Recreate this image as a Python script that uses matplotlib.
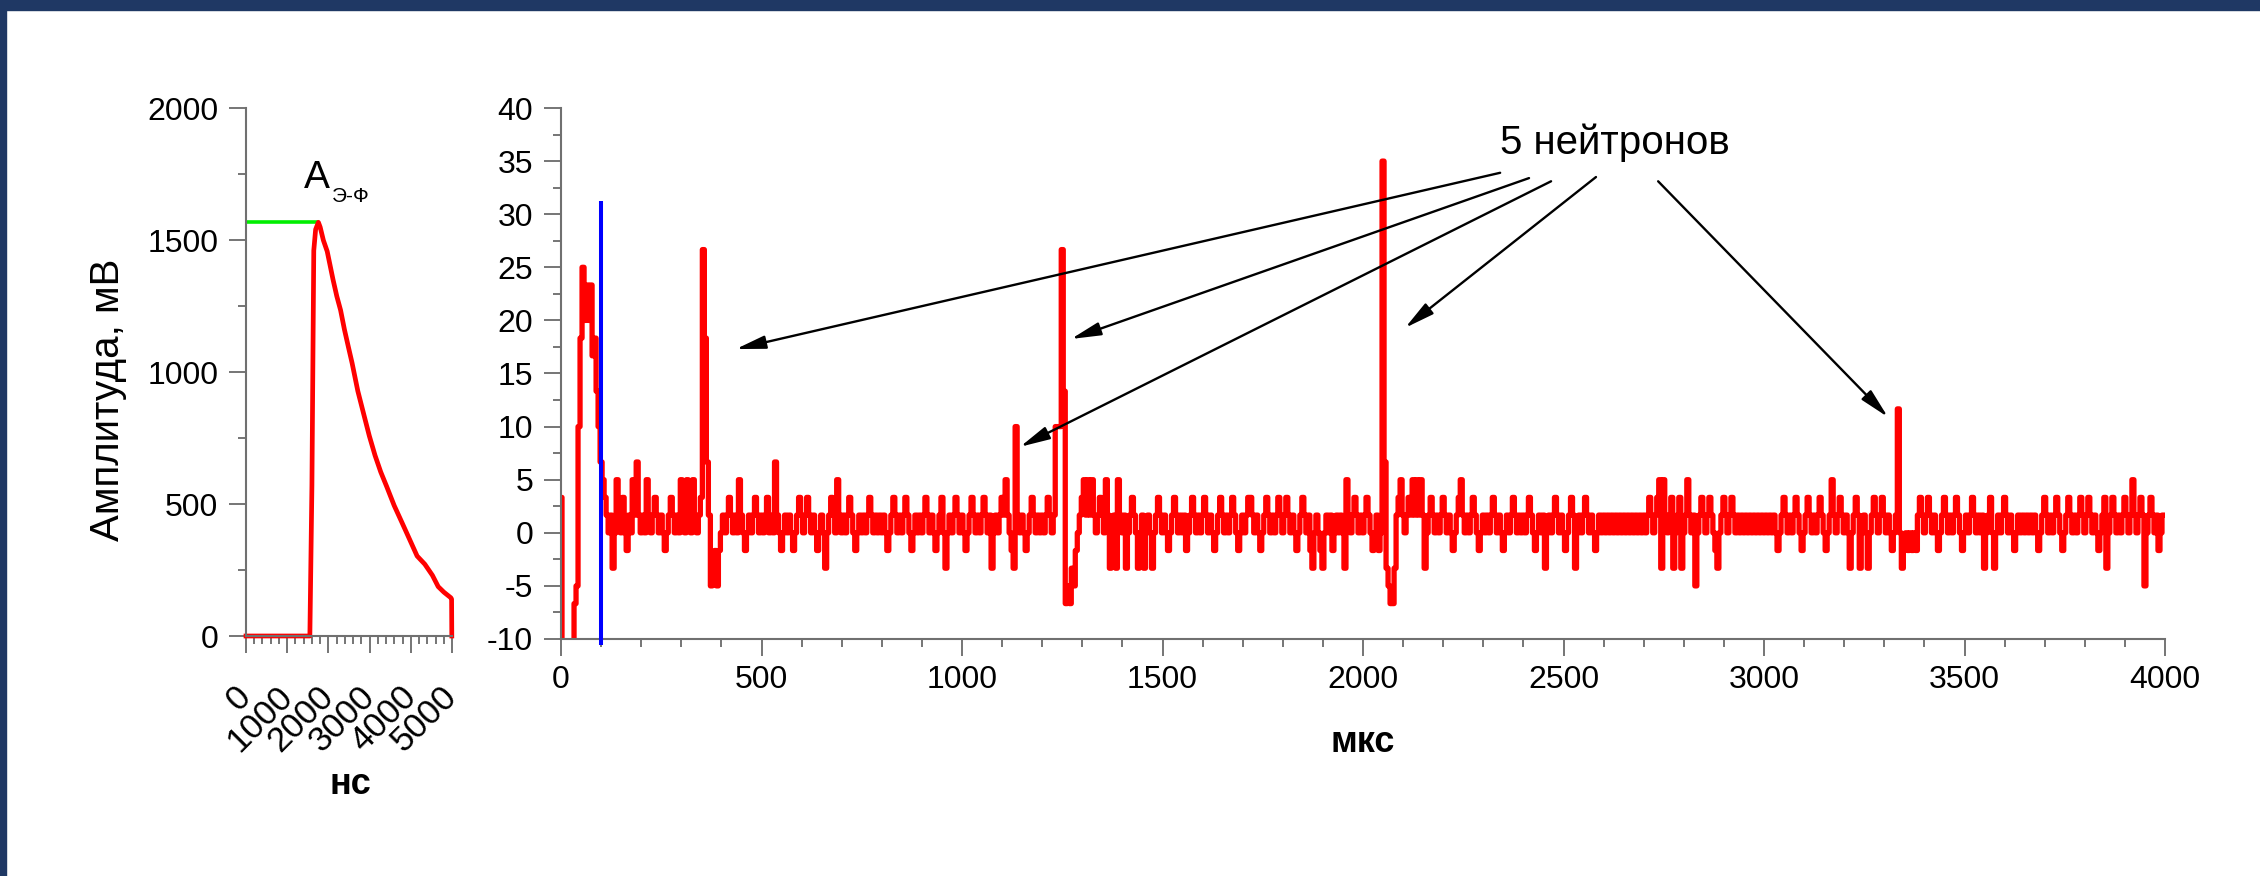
import numpy as np
import matplotlib
matplotlib.use("Agg")
import matplotlib.pyplot as plt
from matplotlib.patches import Rectangle
from matplotlib.ticker import MultipleLocator

# ---- left panel: one PMT pulse (ns, mV)
pulse_ns = [0, 1000, 1550, 1600, 1645, 1690, 1757, 1800, 1878, 1971, 2111,
            2204, 2296, 2389, 2482, 2575, 2714, 2853, 2993, 3132, 3271,
            3410, 3597, 3782, 3968, 4153, 4340, 4524, 4665, 4803, 4971,
            4990, 4995]
pulse_mv = [0, 0, 0, 570, 1460, 1540, 1567, 1549, 1499, 1457, 1351,
            1287, 1234, 1161, 1097, 1034, 928, 843, 758, 684, 621,
            568, 494, 431, 367, 303, 272, 230, 187, 166, 145,
            140, 0]
peak_ns = [0, 1755]
peak_mv = 1568

step_us = 5
code_mv = 5 / 3  # one ADC code in mV
trace_codes = [
    2, -8, -8, -8, -8, -8, -8, -4, -3, 6, 11, 15, 12, 14, 12, 14, 10, 11, 8, 6,
    4, 3, 2, 1, 0, 1, -2, 0, 3, 1, 0, 2, 0, -1, 1, 0, 3, 1, 4, 1,
    0, 1, 0, 3, 1, 0, 1, 2, 1, 0, 1, 0, -1, 0, 1, 2, 1, 0, 1, 0,
    3, 1, 0, 3, 1, 0, 3, 1, 0, 1, 2, 16, 11, 4, 1, -3, -2, -1, -3, -1,
    0, 1, 0, 1, 2, 1, 0, 1, 0, 3, 1, 0, -1, 0, 1, 0, 1, 2, 1, 0,
    1, 0, 1, 2, 0, 1, 0, 4, 1, 0, -1, 0, 1, 0, 1, 0, -1, 0, 1, 2,
    1, 0, 1, 2, 1, 0, 1, 0, -1, 0, 1, 0, -2, 0, 1, 2, 1, 0, 3, 1,
    0, 1, 0, 1, 2, 1, 0, -1, 0, 1, 0, 1, 0, 1, 2, 1, 0, 1, 0, 1,
    0, 1, 0, -1, 0, 1, 2, 1, 0, 1, 0, 1, 2, 1, 0, -1, 0, 1, 0, 1,
    0, 1, 2, 1, 0, 1, 0, -1, 0, 1, 2, 0, -2, 0, 1, 0, 1, 2, 1, 0,
    1, 0, -1, 0, 1, 2, 1, 0, 1, 0, 1, 2, 1, 0, 1, -2, 0, 1, 0, 1,
    2, 1, 3, 1, 0, -1, -2, 6, 1, 0, 1, 0, -1, 0, 1, 2, 1, 0, 1, 0,
    1, 0, 1, 2, 1, 0, 1, 6, 6, 6, 16, 8, -4, -3, -4, -2, -3, -1, 0, 1,
    2, 3, 1, 3, 1, 3, 1, 0, 1, 2, 1, 0, 3, 1, -2, 0, 1, -2, 3, 1,
    0, 1, -2, 0, 1, 2, 1, 0, -2, 0, 1, -2, 0, 1, 0, -2, 0, 1, 2, 1,
    0, 1, 0, -1, 0, 1, 2, 1, 0, 1, 0, 1, -1, 0, 1, 2, 1, 0, 1, 0,
    1, 2, 1, 0, 1, 0, -1, 0, 1, 2, 1, 0, 1, 0, 1, 2, 1, 0, -1, 0,
    1, 0, 1, 2, 2, 1, 0, 1, 0, -1, 0, 1, 2, 1, 0, 1, 0, 1, 2, 1,
    0, 1, 2, 1, 0, 1, 0, -1, 0, 1, 2, 1, 0, 1, -1, -2, 0, 1, 0, -1,
    -2, 0, 1, 0, 1, -1, 0, 1, 0, 1, 0, -2, 3, 1, 0, 1, 2, 1, 0, 1,
    0, 1, 2, 1, 0, -1, 0, 1, -1, 0, 21, 4, -2, -3, -4, -4, -2, 1, 2, 3,
    1, 0, 1, 2, 1, 3, 1, 3, 1, 3, 1, -2, 0, 1, 2, 1, 0, 1, 0, 1,
    2, 1, 0, 1, 0, -1, 0, 1, 2, 3, 1, 0, 1, 0, 1, 2, 1, 0, -1, 0,
    1, 0, 1, 0, 1, 2, 1, 0, 1, 0, -1, 0, 1, 0, 1, 2, 1, 0, 1, 0,
    1, 0, 1, 2, 1, 0, -1, 0, 1, 0, 1, -2, 0, 1, 0, 1, 2, 1, 0, 1,
    0, -1, 0, 1, 2, 1, -2, 0, 1, 0, 1, 2, 1, 0, 1, 0, -1, 0, 1, 0,
    1, 0, 1, 0, 1, 0, 1, 0, 1, 0, 1, 0, 1, 0, 1, 0, 1, 0, 1, 0,
    1, 0, 1, 2, 1, 0, 1, 2, 3, -2, 3, 1, 0, 1, 2, -2, 0, 1, 2, -2,
    0, 1, 3, 1, 0, 1, -3, 0, 1, 2, 1, 0, 1, 2, 1, 0, -1, -2, 0, 1,
    2, 1, 0, 1, 2, 1, 0, 1, 0, 1, 0, 1, 0, 1, 0, 1, 0, 1, 0, 1,
    0, 1, 0, 1, 0, 1, 0, -1, 0, 1, 2, 1, 0, 1, 0, 1, 2, 1, 0, -1,
    0, 1, 2, 1, 0, 1, 0, 1, 2, 1, 0, -1, 0, 1, 3, 1, 0, 1, 2, 1,
    0, 1, 0, -2, 0, 1, 2, 1, -2, 0, 1, 0, -2, 0, 1, 2, 1, 0, 1, 2,
    1, 0, 1, 0, -1, 0, 1, 7, 0, -2, -1, 0, -1, 0, -1, 0, -1, 1, 2, 1,
    0, 1, 2, 1, 0, 1, 0, -1, 0, 1, 2, 1, 0, 1, 0, 1, 2, 1, 0, -1,
    0, 1, 0, 1, 2, 1, 0, 1, 0, 1, -2, 0, 1, 2, 0, -2, 0, 1, 0, 1,
    2, 1, 0, 1, 0, -1, 0, 1, 0, 1, 0, 1, 0, 1, 0, 1, 0, -1, 0, 1,
    2, 1, 0, 1, 0, 1, 2, 1, 0, -1, 0, 1, 2, 1, 0, 1, 0, 1, 2, 1,
    0, 1, 2, 1, 0, 1, 0, -1, 0, 1, 2, -2, 0, 1, 2, 1, 0, 1, 0, 1,
    2, 1, 0, 1, 3, 1, 0, 1, 2, 1, -3, 0, 1, 2, 1, 0, 1, -1, 0, 1,
    1,
]
gate_us = 100
gate_mv = [-10.6, 31.2]

# neutron arrows: text foot -> pulse (us, mV)
arrow_from = [(2342, 33.9), (2414, 33.4), (2469, 33.1), (2581, 33.5), (2736, 33.1)]
arrow_to = [(436, 17.3), (1272, 18.25), (1145, 8.1), (2105, 19.3), (3309, 10.9)]
label_pos = (2628, 36.7)

W, H = 2260, 876
plt.rcParams['font.family'] = ['Liberation Sans', 'DejaVu Sans']
plt.rcParams['axes.unicode_minus'] = False
plt.rcParams['path.simplify'] = False

fig = plt.figure(figsize=(W / 100, H / 100), dpi=100)
fig.patches.append(Rectangle((0, 1 - 10 / H), 1, 10 / H, transform=fig.transFigure,
                             color='#1f3864', zorder=0))
fig.patches.append(Rectangle((0, 0), 6 / W, 1, transform=fig.transFigure,
                             color='#1f3864', zorder=0))


def px_box(x0, y0, x1, y1):
    return [x0 / W, 1 - y1 / H, (x1 - x0) / W, (y1 - y0) / H]


def style(ax):
    for side in ('top', 'right'):
        ax.spines[side].set_visible(False)
    for side in ('left', 'bottom'):
        ax.spines[side].set_color('#707070')
        ax.spines[side].set_linewidth(1.5)
    ax.tick_params(which='major', direction='out', length=12, width=1.1,
                   color='#505050', labelsize=23, pad=8)
    ax.tick_params(which='minor', direction='out', length=6, width=1.1,
                   color='#505050')


# left panel
ax1 = fig.add_axes(px_box(246, 108, 452, 636))
style(ax1)
ax1.plot(peak_ns, [peak_mv, peak_mv], color='#00ee00', lw=2.6,
         solid_capstyle='butt', clip_on=False)
ax1.plot(pulse_ns, pulse_mv, color='red', lw=3.4, clip_on=False)
ax1.set_xlim(0, 5000)
ax1.set_ylim(0, 2000)
ax1.set_xticks(range(0, 5001, 1000))
ax1.set_yticks(range(0, 2001, 500))
ax1.xaxis.set_minor_locator(MultipleLocator(200))
ax1.yaxis.set_minor_locator(MultipleLocator(250))
ax1.tick_params(axis='x', which='major', pad=28, labelsize=25)
plt.setp(ax1.get_xticklabels(), rotation=45, ha='right', va='center',
         rotation_mode='anchor')
ax1.text(1408, 1697, 'А', fontsize=28, ha='left', va='baseline')
ax1.text(2087, 1644, 'Э-Ф', fontsize=15, ha='left', va='baseline')

# right panel
ax2 = fig.add_axes(px_box(561, 108, 2165, 639))
style(ax2)
t_us = np.arange(len(trace_codes)) * step_us
ax2.plot(t_us, np.array(trace_codes) * code_mv, color='red', lw=3.8,
         drawstyle='steps-mid')
ax2.plot([gate_us, gate_us], gate_mv, color='blue', lw=2.9,
         solid_capstyle='butt', clip_on=False, zorder=3)
ax2.set_xlim(0, 4000)
ax2.set_ylim(-10, 40)
ax2.set_xticks(range(0, 4001, 500))
ax2.set_yticks(range(-10, 41, 5))
ax2.xaxis.set_minor_locator(MultipleLocator(100))
ax2.yaxis.set_minor_locator(MultipleLocator(2.5))
ax2.tick_params(axis='x', which='major', pad=7)

for start, end in zip(arrow_from, arrow_to):
    ax2.annotate('', xy=end, xytext=start,
                 arrowprops=dict(arrowstyle='-|>,head_length=0.9,head_width=0.2',
                                 mutation_scale=20, lw=1.7, color='black',
                                 shrinkA=0, shrinkB=0))
ax2.text(*label_pos, '5 нейтронов', fontsize=29, ha='center', va='center')

fig.text(108 / W, 1 - 400 / H, 'Амплитуда, мВ', rotation=90, fontsize=29,
         ha='center', va='center')
fig.text(350 / W, 1 - 785 / H, 'нс', fontsize=26, fontweight='bold',
         ha='center', va='center')
fig.text(1363 / W, 1 - 743 / H, 'мкс', fontsize=26, fontweight='bold',
         ha='center', va='center')

fig.savefig('out.png', dpi=100)
